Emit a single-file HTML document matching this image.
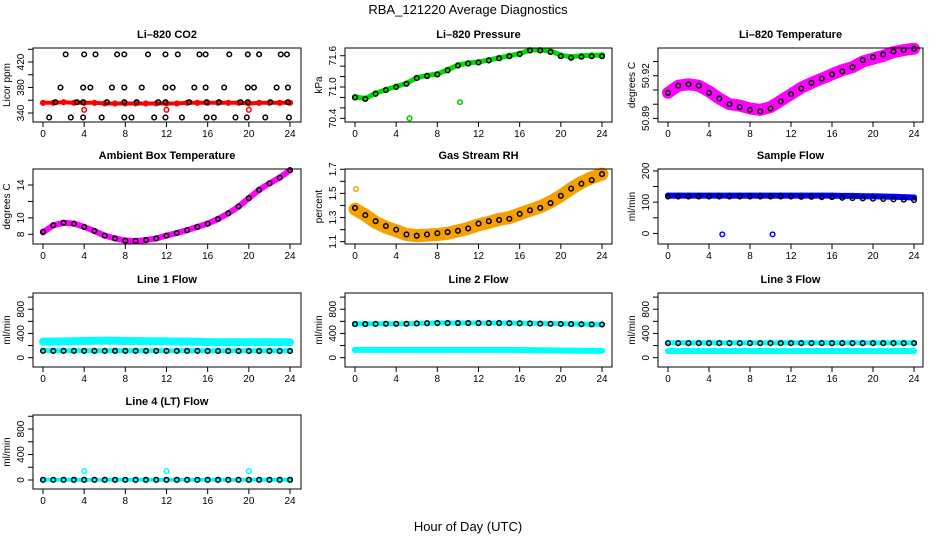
<!DOCTYPE html>
<html><head><meta charset="utf-8"><style>
body{margin:0;background:#fff}
svg{display:block;font-family:"Liberation Sans",Arial,sans-serif}
</style></head><body>
<svg id="chart" width="936" height="540" viewBox="0 0 936 540">
<rect width="936" height="540" fill="#fff"/>
<text x="468" y="14" text-anchor="middle" font-size="13">RBA_121220  Average Diagnostics</text>
<text x="468" y="531" text-anchor="middle" font-size="13">Hour of Day (UTC)</text>
</svg>
<script>
const hours=[0,1,2,3,4,5,6,7,8,9,10,11,12,13,14,15,16,17,18,19,20,21,22,23,24];
const xTicks=[0,4,8,12,16,20,24];
// CO2
const co2Band=[356,356,357,356,356,356,355,355,355,355,355,355,355,355,356,356,356,356,356,356,355,356,356,356,356];
const co2RedOutHours=[4,12,20];
const co2RedOutVals=[345,345,345];
const co2BlackHours=[2.2,4.0,5.1,7.2,7.9,10.2,11.9,13.1,15.2,15.8,18.1,19.9,21.0,23.1,23.7,1.7,3.9,4.6,6.7,7.9,9.6,11.9,12.6,14.7,15.8,17.6,19.9,20.5,22.7,23.8,1.2,3.3,3.9,6.2,7.9,9.1,11.2,11.9,14.2,15.9,17.1,19.2,19.9,22.1,23.8,0.6,2.7,3.9,5.7,7.9,8.6,10.8,11.9,13.5,15.9,16.6,18.7,19.8,21.6,23.9];
const co2BlackVals=[432,432,432,432,432,432,432,432,432,432,432,432,432,432,432,380,380,380,380,380,380,380,380,380,380,380,380,380,380,380,357,357,357,357,357,357,357,357,357,357,357,357,357,357,357,333,333,333,333,333,333,333,333,333,333,333,333,333,333,333];
// Pressure
const presBand=[70.81,70.78,70.88,70.95,71.01,71.07,71.18,71.22,71.25,71.33,71.42,71.46,71.48,71.52,71.56,71.60,71.64,71.71,71.71,71.69,71.61,71.58,71.60,71.61,71.61];
const presBlack=[70.80,70.77,70.87,70.94,71.00,71.06,71.17,71.21,71.24,71.32,71.41,71.45,71.47,71.51,71.55,71.59,71.63,71.70,71.70,71.67,71.59,71.56,71.58,71.59,71.59];
const presOutHours=[5.3,10.2];
const presOutVals=[70.40,70.71];
// Li-820 temperature
const tempBand=[50.908,50.913,50.914,50.913,50.909,50.904,50.900,50.899,50.897,50.896,50.898,50.9025,50.907,50.9116,50.915,50.918,50.921,50.924,50.926,50.930,50.932,50.934,50.9366,50.938,50.939];
const tempBlack=[50.908,50.913,50.914,50.913,50.908,50.904,50.900,50.898,50.896,50.895,50.897,50.902,50.907,50.911,50.915,50.918,50.921,50.923,50.926,50.931,50.933,50.935,50.937,50.938,50.939];
// Ambient
const ambBand=[8.24,9.1,9.4,9.3,8.9,8.4,7.84,7.5,7.23,7.19,7.3,7.5,7.84,8.16,8.5,8.9,9.3,9.86,10.55,11.36,12.4,13.4,14.2,14.9,15.8];
const ambBlack=[8.3,9.1,9.4,9.3,8.9,8.4,7.84,7.5,7.23,7.19,7.3,7.5,7.84,8.16,8.5,8.9,9.3,9.86,10.55,11.4,12.4,13.4,14.2,14.9,15.8];
// RH
const rhBand=[1.37,1.32,1.26,1.22,1.19,1.16,1.15,1.155,1.16,1.17,1.19,1.21,1.24,1.26,1.285,1.30,1.33,1.36,1.39,1.43,1.48,1.54,1.59,1.63,1.66];
const rhBlack=[1.38,1.32,1.27,1.23,1.20,1.16,1.15,1.16,1.17,1.18,1.19,1.21,1.25,1.27,1.28,1.29,1.33,1.36,1.38,1.42,1.48,1.54,1.58,1.61,1.66];
const rhOutHours=[0.1];
const rhOutVals=[1.536];
// Sample flow
const sampBand=[121,121,121,121,121,121,121,121,121,121,121,121,121,121,121,121,121,120,120,119,119,118,117,116,115];
const sampBlack=[118,118,118,118,118,118,118,118,118,118,118,118,118,117,117,116,116,114,113,112,111,110,109,108,107];
const sampOutHours=[5.3,10.2];
const sampOutVals=[-3,-3];
// Line flows
const l1High=[265,265,268,270,275,278,278,278,276,274,272,270,268,266,265,262,258,255,255,255,255,255,255,255,255];
const l1Low=[118,115,115,115,115,115,115,115,115,115,115,115,115,115,115,115,115,115,115,115,115,115,115,115,115];
const l1Black=[112,112,112,112,112,112,112,112,112,112,112,112,112,112,112,112,110,110,110,110,110,110,110,110,110];
const l2High=[560,558,560,560,558,560,565,570,572,572,572,572,572,572,572,572,570,568,565,562,560,558,555,552,550];
const l2Low=[128,128,128,128,128,128,128,128,128,128,128,128,128,128,128,128,126,124,122,120,118,116,114,112,112];
const l2Black=[555,555,558,560,560,560,565,570,572,572,572,572,572,572,572,570,568,565,562,560,558,555,552,550,548];
const l3High=[245,245,245,245,245,245,245,245,245,245,245,245,245,245,245,245,245,245,245,245,245,245,245,245,245];
const l3Low=[110,110,110,110,110,110,110,110,110,110,110,110,110,110,110,110,110,110,110,110,110,110,110,110,110];
const l3Black=[240,240,240,240,240,240,240,240,240,240,240,240,240,240,240,240,240,240,240,240,240,240,240,240,240];
const l4Band=[5,3,3,3,3,3,3,3,3,3,3,3,3,3,3,3,3,3,3,3,3,3,3,3,3];
const l4Black=[3,3,3,3,3,3,3,3,3,3,3,3,3,3,3,3,3,3,3,3,3,3,3,3,3];
const l4OutHours=[4,12,20];
const l4OutVals=[140,140,140];

const NS="http://www.w3.org/2000/svg";
const svg=document.getElementById('chart');
function mk(tag,attrs,parent){const e=document.createElementNS(NS,tag);for(const k in attrs)e.setAttribute(k,attrs[k]);(parent||svg).appendChild(e);return e;}

const cols=[[33,301,43,290],[345,612,355,602],[658,923,668,914]];
const rows=[[48,122],[169,244],[293,367],[415,489]];

function panel(o){
  const [fx0,fx1,ax0,ax1]=cols[o.c];const [fy0,fy1]=rows[o.r];
  const g=mk('g',{});
  
  
  const xs=h=>ax0+(ax1-ax0)*h/24;
  const ys=v=>fy1-(v-o.yd[0])/(o.yd[1]-o.yd[0])*(fy1-fy0);
  const t=mk('text',{x:(fx0+fx1)/2,y:fy0-10,'text-anchor':'middle','font-size':11,'font-weight':'bold'},g);
  t.textContent=o.title;
  
  
  (o.bands||[]).forEach(b=>{
    const pts=hours.map((h,i)=>xs(h).toFixed(1)+','+ys(b.v[i]).toFixed(1)).join(' ');
    const pl=mk('polyline',{points:pts,fill:'none',stroke:b.col,'stroke-width':b.w,'stroke-linejoin':'round','stroke-linecap':'round'},g);
    
    
    hours.forEach((h,i)=>{
      const c=mk('circle',{cx:xs(h),cy:ys(b.v[i]),r:2.3,fill:'none',stroke:b.col,'stroke-width':1.5},g);
      
      
    });
  });
  (o.outs||[]).forEach(s=>{
    s.h.forEach((h,i)=>{
      const c=mk('circle',{cx:xs(h),cy:ys(s.v[i]),r:2.3,fill:'none',stroke:s.col,'stroke-width':1.5},g);
      
      
    });
  });
  (o.black||[]).forEach(s=>{
    s.h.forEach((h,i)=>{
      const c=mk('circle',{cx:xs(h),cy:ys(s.v[i]),r:2.3,fill:'none',stroke:'#000','stroke-width':1.5},g);
      
      
    });
  });
  const box=mk('rect',{x:fx0,y:fy0,width:fx1-fx0,height:fy1-fy0,fill:'none',stroke:'#000','stroke-width':1},g);
  
  
  xTicks.forEach(h=>{
    mk('line',{x1:xs(h),x2:xs(h),y1:fy1,y2:fy1+5,stroke:'#000'},g);
    const tx=mk('text',{x:xs(h),y:fy1+15,'text-anchor':'middle','font-size':10},g);
    tx.textContent=h;
    
    
  });
  o.yt.forEach(v=>{mk('line',{x1:fx0-5,x2:fx0,y1:ys(v),y2:ys(v),stroke:'#000'},g);});
  o.yl.forEach(v=>{
    const y=ys(v);
    const tx=mk('text',{x:fx0-9,y:y,'text-anchor':'middle','font-size':10,transform:`rotate(-90 ${fx0-9} ${y})`},g);
    tx.textContent=v;
    
    
  });
  const yl=mk('text',{x:fx0-23,y:(fy0+fy1)/2,'text-anchor':'middle','font-size':10,transform:`rotate(-90 ${fx0-23} ${(fy0+fy1)/2})`},g);
  yl.textContent=o.ylab;
  
  
}
const flowT=[0,200,400,600,800,1000],flowL=[0,400,800];
panel({name:'co2-panel',c:0,r:0,title:'Li\u2013820 CO2',ylab:'Licor ppm',yd:[325.9,442],yt:[340,360,380,400,420,440],yl:[340,380,420],
  bands:[{v:co2Band,col:'#ff0000',w:4}],outs:[{h:co2RedOutHours,v:co2RedOutVals,col:'#ff0000'}],black:[{h:co2BlackHours,v:co2BlackVals}]});
panel({name:'pressure-panel',c:1,r:0,title:'Li\u2013820 Pressure',ylab:'kPa',yd:[70.329,71.748],yt:[70.4,70.6,70.8,71.0,71.2,71.4,71.6],yl:['70.4','71.0','71.6'],
  bands:[{v:presBand,col:'#00dd00',w:5}],outs:[{h:presOutHours,v:presOutVals,col:'#00cc00'}],black:[{h:hours,v:presBlack}]});
panel({name:'temperature-panel',c:2,r:0,title:'Li\u2013820 Temperature',ylab:'degrees C',yd:[50.8875,50.9395],yt:[50.89,50.9,50.91,50.92,50.93],yl:['50.89','50.92'],
  bands:[{v:tempBand,col:'#ff00ff',w:12}],black:[{h:hours,v:tempBlack}]});
panel({name:'ambient-panel',c:0,r:1,title:'Ambient Box Temperature',ylab:'degrees C',yd:[6.82,15.95],yt:[8,10,12,14],yl:[8,10,14],
  bands:[{v:ambBand,col:'#ff00ff',w:6}],black:[{h:hours,v:ambBlack}]});
panel({name:'rh-panel',c:1,r:1,title:'Gas Stream RH',ylab:'percent',yd:[1.081,1.702],yt:[1.1,1.2,1.3,1.4,1.5,1.6,1.7],yl:['1.1','1.3','1.5','1.7'],
  bands:[{v:rhBand,col:'#f5a000',w:13}],outs:[{h:rhOutHours,v:rhOutVals,col:'#ffa500'}],black:[{h:hours,v:rhBlack}]});
panel({name:'sample-flow-panel',c:2,r:1,title:'Sample Flow',ylab:'ml/min',yd:[-33.8,206],yt:[0,50,100,150,200],yl:[0,100,200],
  bands:[{v:sampBand,col:'#0000ff',w:6}],outs:[{h:sampOutHours,v:sampOutVals,col:'#0000ff'}],black:[{h:hours,v:sampBlack}]});
panel({name:'line1-flow-panel',c:0,r:2,title:'Line 1 Flow',ylab:'ml/min',yd:[-154,1068],yt:flowT,yl:flowL,
  bands:[{v:l1High,col:'#00ffff',w:8},{v:l1Low,col:'#00ffff',w:5}],black:[{h:hours,v:l1Black}]});
panel({name:'line2-flow-panel',c:1,r:2,title:'Line 2 Flow',ylab:'ml/min',yd:[-154,1068],yt:flowT,yl:flowL,
  bands:[{v:l2High,col:'#00ffff',w:5},{v:l2Low,col:'#00ffff',w:6}],black:[{h:hours,v:l2Black}]});
panel({name:'line3-flow-panel',c:2,r:2,title:'Line 3 Flow',ylab:'ml/min',yd:[-154,1068],yt:flowT,yl:flowL,
  bands:[{v:l3High,col:'#00ffff',w:5},{v:l3Low,col:'#00ffff',w:6}],black:[{h:hours,v:l3Black}]});
panel({name:'line4-flow-panel',c:0,r:3,title:'Line 4 (LT) Flow',ylab:'ml/min',yd:[-141,1020],yt:flowT,yl:flowL,
  bands:[{v:l4Band,col:'#00ffff',w:4}],outs:[{h:l4OutHours,v:l4OutVals,col:'#00ffff'}],black:[{h:hours,v:l4Black}]});
</script>
</body></html>
